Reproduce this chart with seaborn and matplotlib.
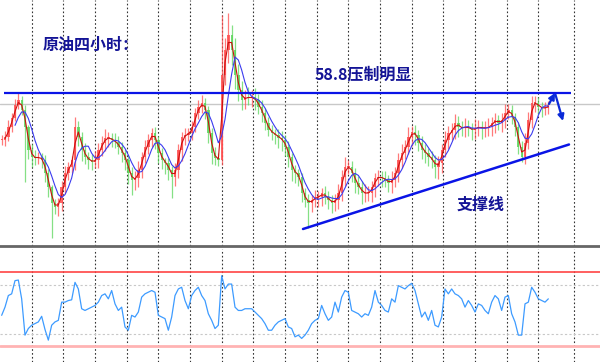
"""Crude oil 4H chart: candles, two moving averages, resistance/support lines and an oscillator panel."""

import matplotlib

matplotlib.use("Agg")
import matplotlib.pyplot as plt
import numpy as np
import pandas as pd
import seaborn as sns

sns.set_theme(style="white")
plt.rcParams["font.family"] = ["Noto Sans CJK SC", "DejaVu Sans"]

# ---- data ----------------------------------------------------------------
closes = [
    56.92, 57.04, 57.44, 57.80, 58.32, 58.52, 58.12, 57.44, 56.52, 56.24, 56.20, 56.24, 56.12, 55.60, 55.04,
    54.40, 54.24, 54.40, 55.04, 55.60, 55.84, 56.12, 57.44, 57.04, 56.52, 56.24, 56.12, 56.04, 56.12, 56.52,
    56.80, 57.00, 57.00, 56.92, 56.84, 56.64, 56.40, 56.12, 55.60, 55.32, 55.40, 55.72, 56.24, 56.64, 56.92,
    57.20, 56.92, 56.40, 56.12, 56.00, 55.72, 55.44, 55.72, 56.52, 57.04, 57.12, 57.20, 57.44, 58.00, 58.24,
    58.40, 58.12, 57.20, 56.40, 56.20, 56.12, 59.52, 60.52, 61.12, 60.52, 59.52, 58.92, 58.52, 58.64, 58.60,
    58.64, 58.52, 58.24, 58.00, 57.60, 57.32, 57.20, 57.12, 57.00, 56.92, 56.64, 56.24, 55.72, 55.60, 55.44,
    54.80, 54.52, 54.40, 54.52, 54.64, 54.64, 54.80, 54.64, 54.52, 54.40, 54.52, 54.80, 55.44, 55.84, 55.84,
    55.60, 55.20, 55.04, 54.80, 54.80, 54.80, 55.04, 55.40, 55.44, 55.40, 55.32, 55.20, 55.32, 55.60, 56.12,
    56.40, 56.64, 57.04, 57.24, 57.12, 56.80, 56.52, 56.40, 56.24, 56.12, 55.84, 56.00, 56.52, 56.92, 57.20,
    57.32, 57.60, 57.44, 57.40, 57.44, 57.40, 57.32, 57.40, 57.44, 57.40, 57.40, 57.44, 57.60, 57.72, 57.60,
    57.72, 58.00, 58.12, 57.84, 57.44, 56.64, 56.24, 56.80, 57.72, 58.40, 58.40, 58.24, 58.20, 58.20, 58.32,
]
wick_up = [
    0.20, 0.25, 0.30, 0.20, 0.25, 0.28, 0.15, 0.20, 0.10, 0.25, 0.30, 0.20, 0.15, 0.20, 0.15,
    0.10, 0.15, 0.20, 0.25, 0.30, 0.20, 0.15, 0.40, 0.25, 0.20, 0.30, 0.20, 0.25, 0.35, 0.30,
    0.30, 0.35, 0.25, 0.20, 0.30, 0.25, 0.20, 0.15, 0.20, 0.25, 0.30, 0.35, 0.20, 0.30, 0.25,
    0.20, 0.25, 0.15, 0.20, 0.10, 0.20, 0.15, 0.30, 0.25, 0.20, 0.30, 0.20, 0.25, 0.20, 0.30,
    0.32, 0.20, 0.15, 0.20, 0.25, 0.20, 2.40, 0.50, 0.88, 0.40, 0.50, 0.45, 0.35, 0.30, 0.40,
    0.30, 0.35, 0.25, 0.30, 0.20, 0.25, 0.20, 0.15, 0.25, 0.30, 0.20, 0.25, 0.15, 0.20, 0.15,
    0.15, 0.20, 0.25, 0.20, 0.30, 0.25, 0.20, 0.30, 0.25, 0.20, 0.25, 0.35, 0.30, 0.40, 0.30,
    0.25, 0.20, 0.30, 0.25, 0.35, 0.30, 0.25, 0.20, 0.30, 0.25, 0.30, 0.20, 0.35, 0.25, 0.30,
    0.35, 0.30, 0.40, 0.25, 0.30, 0.20, 0.30, 0.25, 0.20, 0.25, 0.20, 0.30, 0.25, 0.35, 0.30,
    0.30, 0.35, 0.30, 0.25, 0.35, 0.30, 0.20, 0.35, 0.30, 0.25, 0.30, 0.35, 0.25, 0.30, 0.20,
    0.30, 0.35, 0.25, 0.20, 0.15, 0.20, 0.25, 0.40, 0.32, 0.30, 0.30, 0.25, 0.20, 0.25, 0.15,
]
wick_dn = [
    0.20, 0.25, 0.15, 0.20, 0.10, 0.15, 0.20, 2.20, 0.35, 0.40, 0.30, 0.25, 0.30, 0.35, 0.40,
    1.40, 0.30, 0.35, 0.30, 0.25, 0.30, 0.25, 0.40, 0.35, 0.45, 0.30, 0.35, 0.30, 0.25, 0.30,
    0.25, 0.30, 0.35, 0.30, 0.25, 0.30, 0.35, 0.40, 0.45, 0.60, 0.40, 0.35, 0.30, 0.25, 0.30,
    0.30, 0.35, 0.40, 0.35, 0.45, 0.40, 0.84, 0.35, 0.30, 0.45, 0.30, 0.25, 0.30, 0.20, 0.25,
    0.25, 0.35, 0.40, 0.45, 0.30, 0.25, 0.20, 0.40, 0.50, 0.60, 0.55, 0.45, 0.40, 0.35, 0.30,
    0.35, 0.40, 0.30, 0.35, 0.30, 0.25, 0.30, 0.35, 0.40, 0.45, 0.35, 0.40, 0.45, 0.40, 0.35,
    0.35, 0.30, 1.00, 0.35, 0.30, 0.40, 0.35, 0.30, 0.35, 0.40, 0.30, 0.35, 0.30, 0.35, 0.30,
    0.35, 0.40, 0.30, 0.45, 0.35, 0.30, 0.35, 0.40, 0.30, 0.35, 0.30, 0.35, 0.40, 0.30, 0.35,
    0.30, 0.25, 0.30, 0.35, 0.40, 0.30, 0.35, 0.40, 0.35, 0.30, 0.45, 0.50, 0.40, 0.30, 0.35,
    0.30, 0.35, 0.40, 0.30, 0.35, 0.30, 0.40, 0.35, 0.30, 0.45, 0.35, 0.30, 0.35, 0.40, 0.30,
    0.35, 0.30, 0.25, 0.30, 0.35, 0.30, 0.20, 0.30, 0.25, 0.30, 0.35, 0.30, 0.35, 0.30, 0.25,
]
oscillator = [
    44.9, 51.6, 61.1, 62.5, 73.3, 73.8, 58.4, 28.7, 34.1, 36.8, 38.1, 39.5, 44.1, 33.3, 24.6,
    36.8, 39.5, 40.8, 55.7, 55.7, 57.0, 57.6, 71.9, 66.5, 50.3, 48.9, 50.3, 51.6, 53.0, 55.7,
    61.1, 62.5, 58.4, 65.2, 54.3, 48.9, 51.6, 35.4, 32.7, 44.9, 43.5, 47.6, 59.8, 62.5, 63.8,
    65.2, 63.8, 44.9, 43.5, 42.2, 32.7, 43.5, 61.1, 66.5, 67.9, 57.0, 50.3, 61.1, 65.2, 67.9,
    61.1, 57.0, 46.2, 40.8, 34.1, 36.8, 77.3, 66.5, 70.5, 70.5, 51.6, 48.9, 48.9, 50.3, 50.3,
    50.3, 47.6, 44.9, 42.2, 38.1, 32.7, 32.7, 36.8, 39.5, 40.8, 42.2, 35.4, 34.1, 27.3, 28.7,
    26.0, 28.7, 32.7, 38.1, 40.8, 42.2, 53.0, 46.2, 40.8, 43.5, 55.7, 47.6, 59.8, 65.2, 63.8,
    48.9, 47.6, 46.2, 43.5, 46.2, 44.9, 51.6, 65.2, 55.7, 53.0, 48.9, 47.6, 58.4, 55.7, 69.2,
    67.9, 66.5, 69.2, 71.1, 65.2, 54.3, 43.5, 47.6, 40.8, 48.9, 36.8, 35.4, 43.5, 66.5, 62.5,
    66.5, 62.5, 61.1, 58.4, 51.6, 57.0, 53.0, 47.6, 54.3, 53.0, 48.9, 46.2, 55.7, 61.1, 58.4,
    48.9, 59.8, 61.1, 46.2, 39.5, 28.7, 28.7, 54.3, 55.7, 67.9, 63.8, 58.4, 57.0, 55.7, 58.4,
]

resistance = 58.8
last_price = 58.36
support_x = [90.4, 170.2]
support_y = [53.36, 56.74]
arrow_x = [164.2, 166.0, 168.4]
arrow_y = [58.36, 58.80, 57.68]
osc_levels_dotted = [70, 30]
osc_upper, osc_lower = 80, 20

# ---- frame ---------------------------------------------------------------
df = pd.DataFrame({"idx": np.arange(len(closes)), "close": closes})
df["open"] = df["close"].shift(1).fillna(df["close"])
df["high"] = df[["open", "close"]].max(axis=1) + np.array(wick_up)
df["low"] = df[["open", "close"]].min(axis=1) - np.array(wick_dn)
df["ma_fast"] = df["close"].rolling(2).mean()
df["ma_slow"] = df["close"].rolling(5).mean()
df["osc"] = oscillator

W, H = 600, 362
fig = plt.figure(figsize=(W / 100, H / 100), dpi=100)
fig.patch.set_facecolor("white")
ax = fig.add_axes([0, (H - 246) / H, 1, 246 / H])
ax2 = fig.add_axes([0, 0, 1, (H - 249) / H])

xlim = (-0.5, 179.5)
grid_x = [9.5 * k - 0.5 for k in range(1, 18)] + [171.7]

for a in (ax, ax2):
    a.set_xlim(*xlim)
    a.set_xticks(grid_x)
    a.set_yticks([])
    a.tick_params(length=0, labelbottom=False)
    a.grid(axis="x", color="#333333", linestyle=(0, (1.5, 2)), linewidth=0.8)
    a.set_axisbelow(True)
    for s in a.spines.values():
        s.set_visible(False)

# ---- upper panel: candles ------------------------------------------------
up = df["close"] >= df["open"]
colors = np.where(up, "#ff4d4d", "#5cd65c")
ax.vlines(df["idx"], df["low"], df["high"], colors=colors, linewidth=0.9, alpha=0.75, zorder=2)
ax.bar(df["idx"], (df["close"] - df["open"]).abs().clip(lower=0.04),
       bottom=df[["open", "close"]].min(axis=1), width=0.7, color=colors, alpha=0.85,
       linewidth=0, zorder=2)

sns.lineplot(data=df, x="idx", y="ma_fast", ax=ax, color="#cc1010", linewidth=0.8, zorder=3)
sns.lineplot(data=df, x="idx", y="ma_slow", ax=ax, color="#3b3bef", linewidth=0.8, zorder=3)

ax.axhline(last_price, color="#c8c8c8", linewidth=1, zorder=1)
ax.hlines(resistance, 0.7, 170.8, color="#0a14e6", linewidth=1.6, zorder=4)
ax.plot(support_x, support_y, color="#0a14e6", linewidth=1.8, zorder=4)
arrow = dict(arrowstyle="-|>", color="#0a2ad8", lw=1.6, mutation_scale=9, shrinkA=0, shrinkB=0)
ax.annotate("", xy=(arrow_x[1], arrow_y[1]), xytext=(arrow_x[0], arrow_y[0]), arrowprops=arrow)
ax.annotate("", xy=(arrow_x[2], arrow_y[2]), xytext=(arrow_x[1], arrow_y[1]), arrowprops=arrow)

ax.set_ylim(52.68, 62.52)
ax.set_xlabel("")
ax.set_ylabel("")
ax.spines["bottom"].set_visible(True)
ax.spines["bottom"].set_color("#666666")
ax.spines["bottom"].set_linewidth(2)

txt = dict(color="#141496", fontsize=11.5, fontweight="bold", va="center", ha="left")
fig.text(43 / W, 1 - 45 / H, "原油四小时：", **txt)
fig.text(315 / W, 1 - 75 / H, "58.8压制明显", **txt)
fig.text(457 / W, 1 - 204.5 / H, "支撑线", **txt)

# ---- lower panel: oscillator ---------------------------------------------
sns.lineplot(data=df, x="idx", y="osc", ax=ax2, color="#3d9bff", linewidth=0.9, zorder=3)
for lv in osc_levels_dotted:
    ax2.axhline(lv, color="#c8c8c8", linestyle=(0, (2, 2)), linewidth=0.8, zorder=1)
ax2.axhline(osc_upper, color="#ff4444", linewidth=1.2, zorder=2)
ax2.axhline(osc_lower, color="#ffb3b3", linewidth=2, zorder=2)
ax2.set_ylim(6.7, 99.2)
ax2.set_xlabel("")
ax2.set_ylabel("")

fig.savefig("out.png", dpi=100, facecolor="white")
